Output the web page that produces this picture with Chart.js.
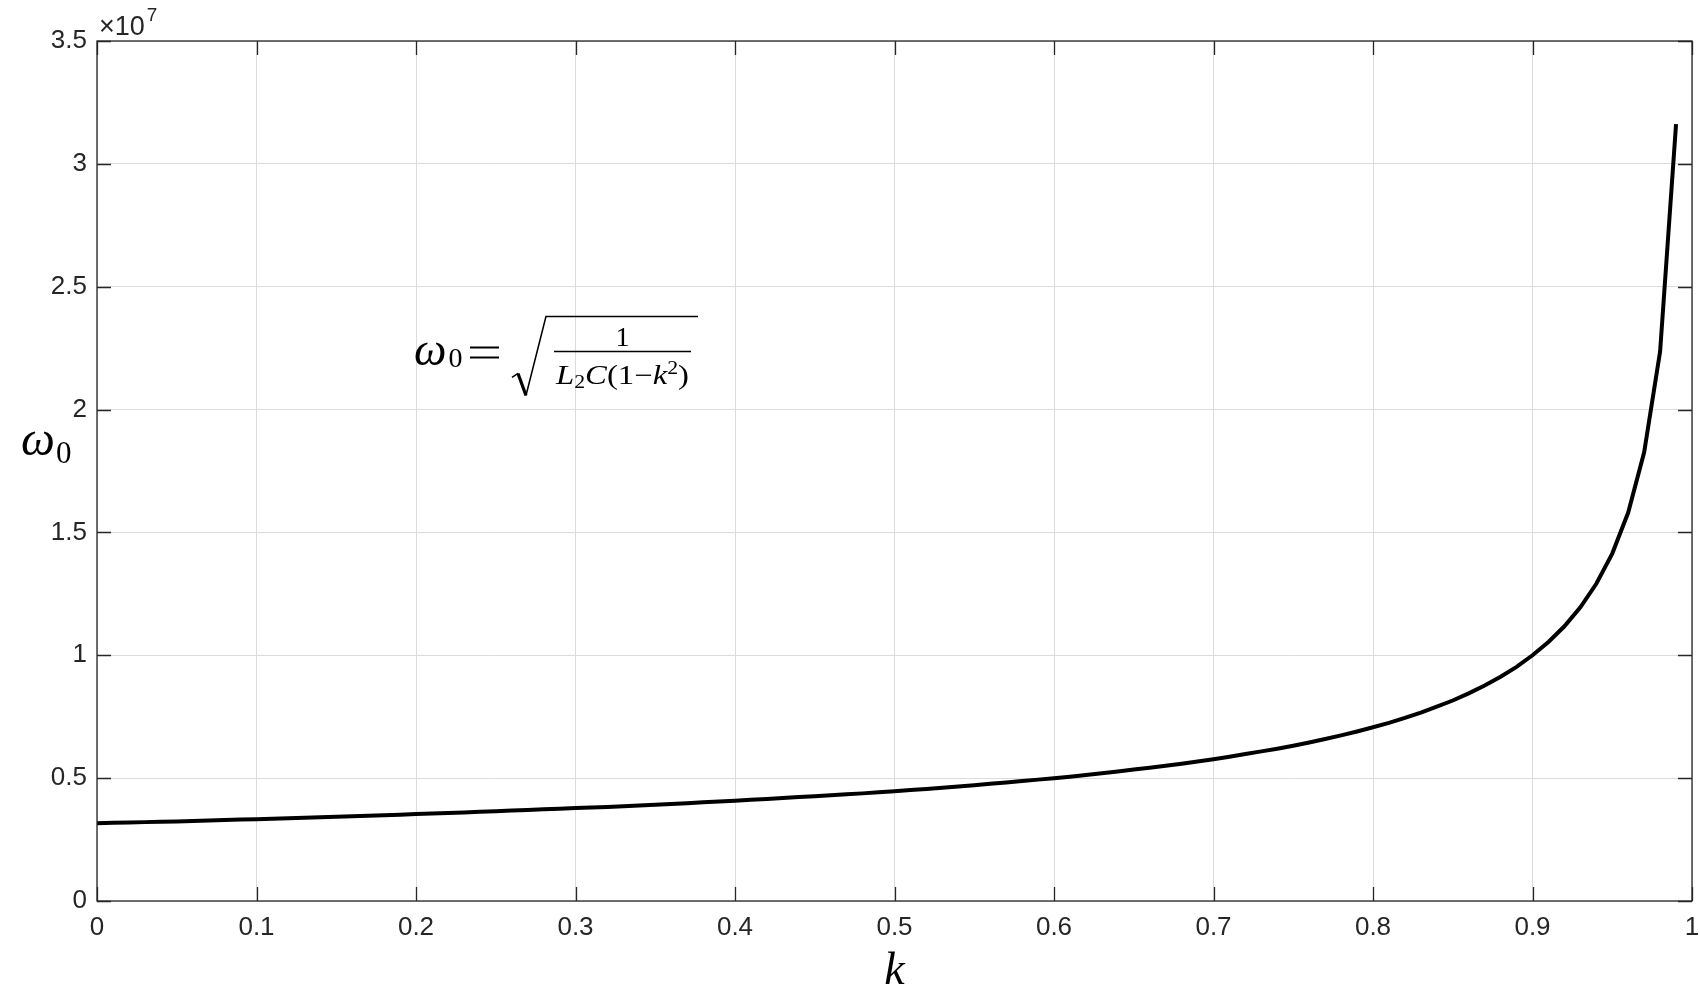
<!DOCTYPE html>
<html>
<head>
<meta charset="utf-8">
<title>omega0 vs k</title>
<script src="https://cdn.jsdelivr.net/npm/chart.js@4.4.1/dist/chart.umd.min.js"></script>
<style>
    html, body { margin: 0; padding: 0; background: #ffffff; }
    #chart { display: block; }
</style>
</head>
<body>
<canvas id="chart" width="1700" height="1000"></canvas>
<script>
// ── Data ──
const kValues = [
    0.00, 0.01, 0.02, 0.03, 0.04, 0.05, 0.06, 0.07, 0.08, 0.09,
    0.10, 0.11, 0.12, 0.13, 0.14, 0.15, 0.16, 0.17, 0.18, 0.19,
    0.20, 0.21, 0.22, 0.23, 0.24, 0.25, 0.26, 0.27, 0.28, 0.29,
    0.30, 0.31, 0.32, 0.33, 0.34, 0.35, 0.36, 0.37, 0.38, 0.39,
    0.40, 0.41, 0.42, 0.43, 0.44, 0.45, 0.46, 0.47, 0.48, 0.49,
    0.50, 0.51, 0.52, 0.53, 0.54, 0.55, 0.56, 0.57, 0.58, 0.59,
    0.60, 0.61, 0.62, 0.63, 0.64, 0.65, 0.66, 0.67, 0.68, 0.69,
    0.70, 0.71, 0.72, 0.73, 0.74, 0.75, 0.76, 0.77, 0.78, 0.79,
    0.80, 0.81, 0.82, 0.83, 0.84, 0.85, 0.86, 0.87, 0.88, 0.89,
    0.90, 0.91, 0.92, 0.93, 0.94, 0.95, 0.96, 0.97, 0.98, 0.99,
];

// omega_0 in units of 10^7
const omegaValues = [
    0.316, 0.318, 0.319, 0.321, 0.323, 0.324, 0.326, 0.328, 0.330, 0.332,
    0.333, 0.335, 0.337, 0.339, 0.341, 0.343, 0.345, 0.347, 0.349, 0.351,
    0.354, 0.356, 0.358, 0.360, 0.363, 0.365, 0.368, 0.370, 0.373, 0.375,
    0.378, 0.381, 0.383, 0.386, 0.389, 0.392, 0.395, 0.398, 0.402, 0.405,
    0.408, 0.412, 0.415, 0.419, 0.423, 0.426, 0.430, 0.434, 0.438, 0.443,
    0.447, 0.452, 0.456, 0.461, 0.466, 0.471, 0.477, 0.482, 0.488, 0.494,
    0.500, 0.506, 0.513, 0.520, 0.527, 0.535, 0.542, 0.550, 0.559, 0.568,
    0.577, 0.587, 0.598, 0.609, 0.620, 0.632, 0.645, 0.659, 0.674, 0.690,
    0.707, 0.725, 0.745, 0.767, 0.791, 0.816, 0.845, 0.877, 0.913, 0.953,
    1.000, 1.054, 1.118, 1.195, 1.291, 1.414, 1.581, 1.826, 2.236, 3.162,
];

const xTicks = [0, 0.1, 0.2, 0.3, 0.4, 0.5, 0.6, 0.7, 0.8, 0.9, 1];
const yTicks = [0, 0.5, 1, 1.5, 2, 2.5, 3, 3.5];
const yExponent = '7';

// where the formula annotation sits, in data units
const noteAt = { x: 0.2, y: 2.2 };

// ── Styles ──
const INK      = '#262626';
const GRID     = '#dcdcdc';
const SANS     = '"Liberation Sans", Arial, sans-serif';
const SERIF    = '"Liberation Serif", "DejaVu Serif", serif';
const TICK_LEN = 14;

// ─────────────────────────────────────────────
//  Box + inward ticks (MATLAB style)
// ─────────────────────────────────────────────
const boxPlugin = {
    id: 'box',
    afterDraw(chart) {
        const { ctx, chartArea: a, scales: { x, y } } = chart;
        ctx.save();
        ctx.strokeStyle = INK;
        ctx.lineWidth = 1.3;
        ctx.strokeRect(a.left, a.top, a.right - a.left, a.bottom - a.top);

        ctx.beginPath();
        xTicks.forEach(v => {
            const px = Math.round(x.getPixelForValue(v)) + 0.5;
            ctx.moveTo(px, a.bottom); ctx.lineTo(px, a.bottom - TICK_LEN);
            ctx.moveTo(px, a.top);    ctx.lineTo(px, a.top + TICK_LEN);
        });
        yTicks.forEach(v => {
            const py = Math.round(y.getPixelForValue(v)) + 0.5;
            ctx.moveTo(a.left, py);  ctx.lineTo(a.left + TICK_LEN, py);
            ctx.moveTo(a.right, py); ctx.lineTo(a.right - TICK_LEN, py);
        });
        ctx.stroke();
        ctx.restore();
    },
};

// ─────────────────────────────────────────────
//  Labels, exponent and formula
// ─────────────────────────────────────────────
function drawRun(ctx, parts, x, y) {
    // parts: [text, font, dy]
    let cx = x;
    parts.forEach(([text, font, dy]) => {
        ctx.font = font;
        ctx.fillText(text, cx, y + (dy || 0));
        cx += ctx.measureText(text).width;
    });
    return cx - x;
}

function runWidth(ctx, parts) {
    let w = 0;
    parts.forEach(([text, font]) => { ctx.font = font; w += ctx.measureText(text).width; });
    return w;
}

const textPlugin = {
    id: 'texts',
    afterDraw(chart) {
        const { ctx, chartArea: a, scales: { x, y } } = chart;
        ctx.save();
        ctx.fillStyle = INK;
        ctx.textBaseline = 'alphabetic';
        ctx.textAlign = 'left';

        // ×10^7
        ctx.font = `27px ${SANS}`;
        ctx.fillText('\u00d710', a.left + 2, a.top - 6);
        const w10 = ctx.measureText('\u00d710').width;
        ctx.font = `19px ${SANS}`;
        ctx.fillText(yExponent, a.left + 4 + w10, a.top - 20);

        // x label k
        ctx.fillStyle = '#000';
        ctx.font = `italic 46px ${SERIF}`;
        ctx.textAlign = 'center';
        ctx.fillText('k', (a.left + a.right) / 2, 984);

        // y label ω0
        ctx.textAlign = 'left';
        ctx.font = `italic 48px ${SERIF}`;
        ctx.fillText('\u03c9', 21, 455);
        const wOmegaY = ctx.measureText('\u03c9').width;
        ctx.font = `31px ${SERIF}`;
        ctx.fillText('0', 21 + wOmegaY + 1, 463);

        // formula ω0 = sqrt( 1 / (L2 C (1-k^2)) )
        const ax = x.getPixelForValue(noteAt.x) - 2;
        const ay = y.getPixelForValue(noteAt.y) + 5;

        ctx.font = `italic 46px ${SERIF}`;
        ctx.fillText('\u03c9', ax, ay);
        const wOmega = ctx.measureText('\u03c9').width;
        ctx.font = `28px ${SERIF}`;
        ctx.fillText('0', ax + wOmega + 2, ay + 2);

        ctx.strokeStyle = '#000';
        ctx.lineWidth = 2;
        ctx.beginPath();
        ctx.moveTo(ax + 56, ay - 18); ctx.lineTo(ax + 85, ay - 18);
        ctx.moveTo(ax + 56, ay - 8);  ctx.lineTo(ax + 85, ay - 8);
        ctx.stroke();

        // radical
        ctx.lineWidth = 1.6;
        ctx.beginPath();
        ctx.moveTo(ax + 98, ay + 12);
        ctx.lineTo(ax + 104, ay + 8);
        ctx.stroke();
        ctx.lineWidth = 3.2;
        ctx.beginPath();
        ctx.moveTo(ax + 104, ay + 8);
        ctx.lineTo(ax + 112, ay + 30);
        ctx.stroke();
        ctx.lineWidth = 1.6;
        ctx.beginPath();
        ctx.moveTo(ax + 112, ay + 30);
        ctx.lineTo(ax + 132, ay - 49);
        ctx.lineTo(ax + 284, ay - 49);
        ctx.stroke();

        // fraction bar
        const barL = ax + 140, barR = ax + 277;
        ctx.lineWidth = 1.5;
        ctx.beginPath();
        ctx.moveTo(barL, ay - 14); ctx.lineTo(barR, ay - 14);
        ctx.stroke();

        ctx.font = `28px ${SERIF}`;
        ctx.textAlign = 'center';
        ctx.fillText('1', (barL + barR) / 2, ay - 19);
        ctx.textAlign = 'left';

        const it = `italic 27px ${SERIF}`;
        const rm = `27px ${SERIF}`;
        const sm = `18px ${SERIF}`;
        const den = [
            ['L', it, 0], ['2', sm, 4], ['C', it, 0], ['(1\u2212', rm, 0],
            ['k', it, 0], ['2', sm, -10], [')', rm, 0],
        ];
        const dw = runWidth(ctx, den);
        const target = barR - barL - 4;
        const sx = target / dw;
        ctx.save();
        ctx.translate(barL + 2, ay + 19);
        ctx.scale(sx, 1);
        drawRun(ctx, den, 0, 0);
        ctx.restore();

        ctx.restore();
    },
};

// ─────────────────────────────────────────────
//  Chart
// ─────────────────────────────────────────────
new Chart(document.getElementById('chart'), {
    type: 'line',
    data: {
        datasets: [{
            data: kValues.map((k, i) => ({ x: k, y: omegaValues[i] })),
            borderColor: '#000000',
            borderWidth: 4,
            pointRadius: 0,
            tension: 0,
            fill: false,
        }],
    },
    options: {
        responsive: false,
        animation: false,
        devicePixelRatio: 1,
        layout: { padding: { left: 0, right: 8, top: 41, bottom: 0 } },
        plugins: {
            legend: { display: false },
            tooltip: { enabled: false },
        },
        scales: {
            x: {
                type: 'linear',
                min: 0,
                max: 1,
                afterFit: s => {
                    s.height = 99;
                    // keep the plot box where the reference has it
                    s.paddingLeft = 0;
                    s.paddingRight = 0;
                },
                afterBuildTicks: s => { s.ticks = xTicks.map(v => ({ value: v })); },
                grid: { color: GRID, lineWidth: 1, drawTicks: false },
                border: { display: false },
                ticks: {
                    color: INK,
                    font: { family: SANS, size: 26 },
                    padding: 11,
                    maxRotation: 0,
                    autoSkip: false,
                    callback: v => String(+v.toFixed(1)),
                },
            },
            y: {
                type: 'linear',
                min: 0,
                max: 3.5,
                afterFit: s => { s.width = 97; },
                afterBuildTicks: s => { s.ticks = yTicks.map(v => ({ value: v })); },
                grid: { color: GRID, lineWidth: 1, drawTicks: false },
                border: { display: false },
                ticks: {
                    color: INK,
                    font: { family: SANS, size: 26 },
                    padding: 10,
                    autoSkip: false,
                    callback: v => String(+v.toFixed(1)),
                },
            },
        },
    },
    plugins: [boxPlugin, textPlugin],
});
</script>
</body>
</html>
